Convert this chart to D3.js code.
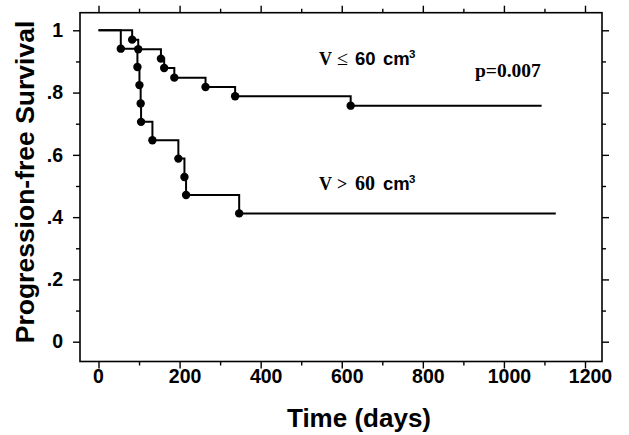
<!DOCTYPE html>
<html>
<head>
<meta charset="utf-8">
<script src="https://cdn.jsdelivr.net/npm/d3@7"></script>
<style>
  html, body { margin: 0; padding: 0; background: #fff; }
  svg { display: block; }
</style>
</head>
<body>
<script>
// ---- data ----
const xMajorTicks = [0, 200, 400, 600, 800, 1000, 1200];
const xMinorTicks = [100, 300, 500, 700, 900, 1100];
const xTickLabels = ["0", "200", "400", "600", "800", "1000", "1200"];
const yMajorTicks = [0, 0.2, 0.4, 0.6, 0.8, 1];
const yMinorTicks = [0.1, 0.3, 0.5, 0.7, 0.9];
const yTickLabels = ["0", ".2", ".4", ".6", ".8", "1"];

// V <= 60 cm3 group
const smallTimes = [0, 83, 98, 154, 162, 187, 264, 337, 622];
const smallSurv  = [1, 0.970, 0.939, 0.909, 0.879, 0.848, 0.818, 0.788, 0.758];
const smallEnd   = 1093;
// V > 60 cm3 group
const largeTimes = [0, 55, 96, 101, 104, 105, 133, 197, 212, 216, 347];
const largeSurv  = [1, 0.941, 0.882, 0.824, 0.765, 0.706, 0.647, 0.588, 0.529, 0.471, 0.412];
const largeEnd   = 1128;

const xTitle = "Time (days)";
const yTitle = "Progression-free Survival";

// ---- layout ----
const W = 629, H = 435;
const frame = { left: 80, right: 602, top: 12.7, bottom: 361.5 };
const sansBold = "'Liberation Sans', Arial, Helvetica, sans-serif";
const serif = "'Liberation Serif', 'Times New Roman', Times, serif";

const svg = d3.select("body").append("svg")
  .attr("width", W).attr("height", H)
  .style("background", "#fff");

const x = d3.scaleLinear().domain([0, 1200]).range([98.5, 585]);
const y = d3.scaleLinear().domain([0, 1]).range([341.7, 30.3]);

// frame
svg.append("rect")
  .attr("x", frame.left).attr("y", frame.top)
  .attr("width", frame.right - frame.left)
  .attr("height", frame.bottom - frame.top)
  .attr("fill", "none").attr("stroke", "#000").attr("stroke-width", 1.6);

function styleAxis(g) {
  g.select(".domain").remove();
  g.selectAll(".tick line").attr("stroke", "#000").attr("stroke-width", 1.4);
}

// bottom axis
const bottomMajor = svg.append("g")
  .attr("transform", `translate(0,${frame.bottom})`)
  .call(d3.axisBottom(x).tickValues(xMajorTicks).tickSize(7).tickSizeOuter(0)
    .tickFormat((d, i) => xTickLabels[i]));
styleAxis(bottomMajor);
bottomMajor.selectAll(".tick text")
  .attr("y", 21.5).attr("dy", 0)
  .attr("dx", d => d === 0 ? -0.5 : 5)
  .attr("font-family", sansBold).attr("font-weight", "bold")
  .attr("font-size", 19.5).attr("fill", "#000");
const bottomMinor = svg.append("g")
  .attr("transform", `translate(0,${frame.bottom})`)
  .call(d3.axisBottom(x).tickValues(xMinorTicks).tickSize(4).tickSizeOuter(0).tickFormat(""));
styleAxis(bottomMinor);

// top axis
const topMajor = svg.append("g")
  .attr("transform", `translate(0,${frame.top})`)
  .call(d3.axisTop(x).tickValues(xMajorTicks).tickSize(7).tickSizeOuter(0).tickFormat(""));
styleAxis(topMajor);
const topMinor = svg.append("g")
  .attr("transform", `translate(0,${frame.top})`)
  .call(d3.axisTop(x).tickValues(xMinorTicks).tickSize(4).tickSizeOuter(0).tickFormat(""));
styleAxis(topMinor);

// left axis
const leftMajor = svg.append("g")
  .attr("transform", `translate(${frame.left},0)`)
  .call(d3.axisLeft(y).tickValues(yMajorTicks).tickSize(7).tickSizeOuter(0).tickPadding(10)
    .tickFormat((d, i) => yTickLabels[i]));
styleAxis(leftMajor);
leftMajor.selectAll(".tick text")
  .attr("font-family", sansBold).attr("font-weight", "bold")
  .attr("font-size", 19.5).attr("fill", "#000");
const leftMinor = svg.append("g")
  .attr("transform", `translate(${frame.left},0)`)
  .call(d3.axisLeft(y).tickValues(yMinorTicks).tickSize(4).tickSizeOuter(0).tickFormat(""));
styleAxis(leftMinor);

// right axis
const rightMajor = svg.append("g")
  .attr("transform", `translate(${frame.right},0)`)
  .call(d3.axisRight(y).tickValues(yMajorTicks).tickSize(7).tickSizeOuter(0).tickFormat(""));
styleAxis(rightMajor);
const rightMinor = svg.append("g")
  .attr("transform", `translate(${frame.right},0)`)
  .call(d3.axisRight(y).tickValues(yMinorTicks).tickSize(4).tickSizeOuter(0).tickFormat(""));
styleAxis(rightMinor);

// curves
const line = d3.line().x(d => x(d[0])).y(d => y(d[1])).curve(d3.curveStepAfter);

function drawCurve(times, surv, end) {
  const pts = times.map((t, i) => [t, surv[i]]);
  const path = pts.concat([[end, surv[surv.length - 1]]]);
  svg.append("path")
    .attr("d", line(path))
    .attr("fill", "none").attr("stroke", "#000").attr("stroke-width", 2);
  svg.append("g").selectAll("circle")
    .data(pts.slice(1))
    .join("circle")
    .attr("cx", d => x(d[0])).attr("cy", d => y(d[1]))
    .attr("r", 4.2).attr("fill", "#000");
}
drawCurve(largeTimes, largeSurv, largeEnd);
drawCurve(smallTimes, smallSurv, smallEnd);

// annotations
function label(baseY, parts) {
  const t = svg.append("text").attr("y", baseY).attr("fill", "#000");
  parts.forEach(p => {
    t.append("tspan").attr("x", p.x).attr("y", baseY + (p.up || 0))
      .attr("font-family", p.serif ? serif : sansBold)
      .attr("font-weight", p.bold === false ? "normal" : "bold")
      .attr("font-size", p.size).text(p.text);
  });
}
label(65, [
  { x: 319, text: "V", serif: true, size: 18 },
  { x: 337, text: "≤", serif: true, bold: false, size: 20 },
  { x: 355, text: "60", size: 18.5 },
  { x: 383, text: "cm", size: 18.5 },
  { x: 409, text: "3", size: 11.5, up: -7 }
]);
label(190, [
  { x: 319, text: "V", serif: true, size: 18 },
  { x: 337, text: ">", serif: true, size: 18 },
  { x: 355, text: "60", serif: true, size: 20 },
  { x: 383, text: "cm", size: 18.5 },
  { x: 409, text: "3", size: 11.5, up: -7 }
]);

svg.append("text").attr("x", 475).attr("y", 76.5).attr("fill", "#000")
  .attr("font-family", serif).attr("font-weight", "bold").attr("font-size", 19.5)
  .text("p=0.007");

// axis titles
svg.append("text")
  .attr("x", 359).attr("y", 426.5).attr("text-anchor", "middle")
  .attr("font-family", sansBold).attr("font-weight", "bold").attr("font-size", 26)
  .attr("fill", "#000").text(xTitle);

svg.append("text")
  .attr("transform", "translate(34,182) rotate(-90)")
  .attr("text-anchor", "middle")
  .attr("font-family", sansBold).attr("font-weight", "bold").attr("font-size", 26.5)
  .attr("fill", "#000").text(yTitle);
</script>
</body>
</html>
